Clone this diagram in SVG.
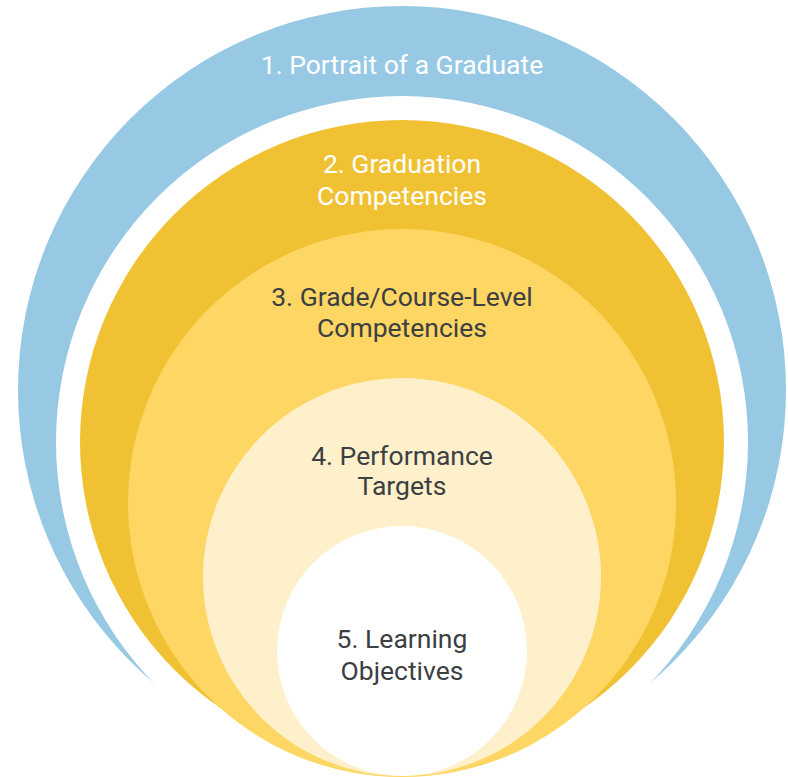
<svg xmlns="http://www.w3.org/2000/svg" width="788" height="777" viewBox="0 0 788 777">
  <style>
    .lbl { font-family: Roboto, "Liberation Sans", Arial, sans-serif; font-size: 26.5px; text-anchor: middle; }
    .light { fill: #FFFFFF; }
    .dark { fill: #3C4043; }
  </style>
  <rect x="0" y="0" width="788" height="777" fill="#FFFFFF"/>
  <g id="node1">
    <circle cx="402" cy="390" r="384" fill="#97C9E5"/>
    <circle cx="402" cy="442" r="346" fill="#FFFFFF"/>
    <text class="lbl light" x="402" y="74">1. Portrait of a Graduate</text>
  </g>
  <g id="node2">
    <circle cx="402" cy="442" r="322" fill="#F0C233"/>
    <text class="lbl light" x="402" y="173">2. Graduation</text>
    <text class="lbl light" x="402" y="205">Competencies</text>
  </g>
  <g id="node3">
    <circle cx="402" cy="503" r="274" fill="#FDD663"/>
    <text class="lbl dark" x="402" y="306">3. Grade/Course-Level</text>
    <text class="lbl dark" x="402" y="337">Competencies</text>
  </g>
  <g id="node4">
    <circle cx="402" cy="577" r="199" fill="#FEF0CB"/>
    <text class="lbl dark" x="402" y="465">4. Performance</text>
    <text class="lbl dark" x="402" y="495">Targets</text>
  </g>
  <g id="node5">
    <circle cx="402" cy="651" r="125" fill="#FFFFFF"/>
    <text class="lbl dark" x="402" y="648">5. Learning</text>
    <text class="lbl dark" x="402" y="680">Objectives</text>
  </g>
  <g id="connectors"/>
</svg>
